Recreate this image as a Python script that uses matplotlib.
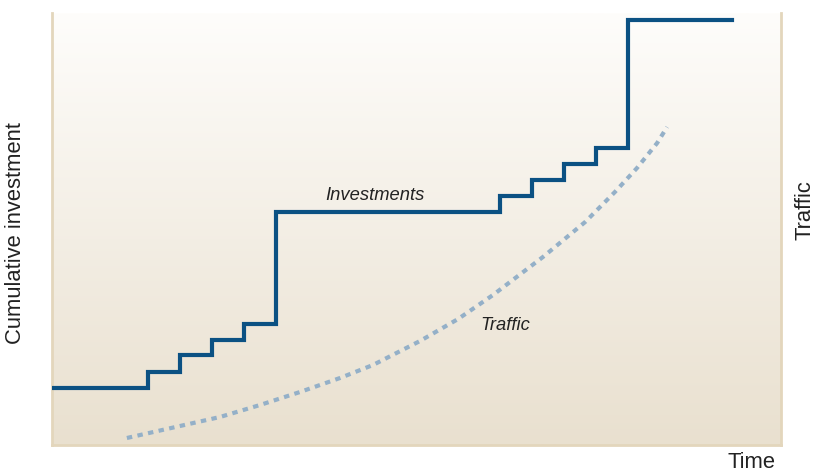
import numpy as np
import matplotlib
matplotlib.use("Agg")
import matplotlib.pyplot as plt
from matplotlib.colors import LinearSegmentedColormap

# Cumulative investment: stepwise capacity additions over time
invest_time = [0, 3, 4, 5, 6, 7, 14, 15, 16, 17, 18, 21.25]
invest_value = [57, 73, 90, 105, 121, 233, 249, 265, 281, 297, 425, 425]

# Traffic growth over time
traffic_time = [2.34, 4.0, 5.25, 6.5, 7.75, 9.0, 10.03, 11.5, 12.69, 13.78,
                15.34, 16.66, 17.59, 18.28, 18.91, 19.22]
traffic_value = [7, 19, 28, 40, 53, 67, 80, 104, 126, 150,
                 188, 223, 253, 277, 302, 318]

XMAX, YMAX = 22.78, 432

INV_COLOR = "#0b5183"
TRAFFIC_COLOR = "#94b0c8"
EDGE_COLOR = "#e3d6bc"
TEXT_COLOR = "#222222"

fig = plt.figure(figsize=(8.14, 4.72), dpi=100)
ax = fig.add_axes([52 / 814, 27 / 472, (781 - 52) / 814, (445 - 13) / 472])

# vertical background gradient, light at top, warm beige at bottom
grad = LinearSegmentedColormap.from_list("bg", ["#e9e0cf", "#fefdfb"])
ax.imshow(np.linspace(0, 1, 256).reshape(-1, 1), cmap=grad, origin="lower",
          extent=[0, XMAX, 0, YMAX], aspect="auto", zorder=0)

ax.plot(traffic_time, traffic_value, color=TRAFFIC_COLOR, lw=3.0,
        linestyle=(0, (1.3, 1.3)), solid_capstyle="butt", zorder=2)
ax.plot(invest_time, invest_value, color=INV_COLOR, lw=3.0,
        drawstyle="steps-post", solid_joinstyle="miter", zorder=3)

label_font = ["Liberation Sans Narrow", "Liberation Sans", "DejaVu Sans"]
ax.text(10.1, 250, "Investments", style="italic", fontsize=13.2, family=label_font,
        color=TEXT_COLOR, ha="center", va="center")
ax.text(14.16, 119, "Traffic", style="italic", fontsize=13.2, family=label_font,
        color=TEXT_COLOR, ha="center", va="center")

ax.set_xlim(0, XMAX)
ax.set_ylim(0, YMAX)
ax.set_xticks([])
ax.set_yticks([])
ax.spines["top"].set_visible(False)
for side in ("left", "right", "bottom"):
    ax.spines[side].set_color(EDGE_COLOR)
    ax.spines[side].set_linewidth(2)

axis_font = ["Liberation Sans", "DejaVu Sans"]
fig.text(16 / 814, 1 - 233 / 472, "Cumulative investment", rotation=90,
         fontsize=15.8, family=axis_font, color=TEXT_COLOR, ha="center", va="center")
fig.text(805 / 814, 1 - 210 / 472, "Traffic", rotation=90,
         fontsize=15.8, family=axis_font, color=TEXT_COLOR, ha="center", va="center")
fig.text(752 / 814, 1 - 462 / 472, "Time",
         fontsize=15.8, family=axis_font, color=TEXT_COLOR, ha="center", va="center")

fig.savefig("out.png", dpi=100)
